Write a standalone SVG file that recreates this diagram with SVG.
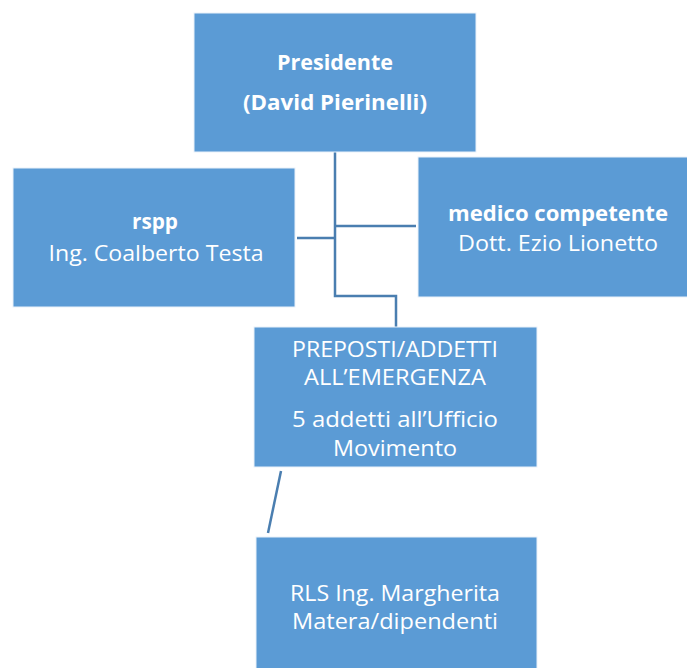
<svg xmlns="http://www.w3.org/2000/svg" width="687" height="668" viewBox="0 0 687 668">
<style>
.box{fill:#5B9BD5;stroke:#EAF1FA;stroke-width:1}
.t{font-family:"Open Sans","Liberation Sans",sans-serif;font-size:21px;fill:#FFFFFF;text-anchor:middle}
.b{font-weight:bold}
.c{fill:none;stroke:#4A7EB0;stroke-width:2.5}
</style>
<rect width="687" height="668" fill="#FFFFFF"/>
<g id="connectors">
<polyline class="c" points="335,152 335,296 396,296 396,327"/>
<line class="c" x1="297" y1="238" x2="335" y2="238"/>
<line class="c" x1="335" y1="226" x2="416" y2="226"/>
<line class="c" x1="281" y1="471" x2="268" y2="533"/>
</g>
<g id="presidente">
<rect class="box" x="194" y="13" width="282" height="139"/>
<text class="t b" x="335" y="70" textLength="116" lengthAdjust="spacingAndGlyphs">Presidente</text>
<text class="t b" x="335" y="110" textLength="184" lengthAdjust="spacingAndGlyphs">(David Pierinelli)</text>
</g>
<g id="rspp">
<rect class="box" x="13" y="168" width="282" height="139"/>
<text class="t b" x="155" y="229" textLength="46" lengthAdjust="spacingAndGlyphs">rspp</text>
<text class="t" x="156" y="261" textLength="215" lengthAdjust="spacingAndGlyphs">Ing. Coalberto Testa</text>
</g>
<g id="medico">
<rect class="box" x="418" y="157" width="272" height="140"/>
<text class="t b" x="558" y="221" textLength="220" lengthAdjust="spacingAndGlyphs">medico competente</text>
<text class="t" x="558" y="251" textLength="200" lengthAdjust="spacingAndGlyphs">Dott. Ezio Lionetto</text>
</g>
<g id="preposti">
<rect class="box" x="254" y="327" width="283" height="140"/>
<text class="t" x="395" y="357" textLength="206" lengthAdjust="spacingAndGlyphs">PREPOSTI/ADDETTI</text>
<text class="t" x="395" y="385" textLength="182" lengthAdjust="spacingAndGlyphs">ALL’EMERGENZA</text>
<text class="t" x="395" y="427" textLength="206" lengthAdjust="spacingAndGlyphs">5 addetti all’Ufficio</text>
<text class="t" x="395" y="456" textLength="124" lengthAdjust="spacingAndGlyphs">Movimento</text>
</g>
<g id="rls">
<rect class="box" x="256" y="537" width="281" height="140"/>
<text class="t" x="395" y="601" textLength="210" lengthAdjust="spacingAndGlyphs">RLS Ing. Margherita</text>
<text class="t" x="395" y="629" textLength="206" lengthAdjust="spacingAndGlyphs">Matera/dipendenti</text>
</g>
</svg>
